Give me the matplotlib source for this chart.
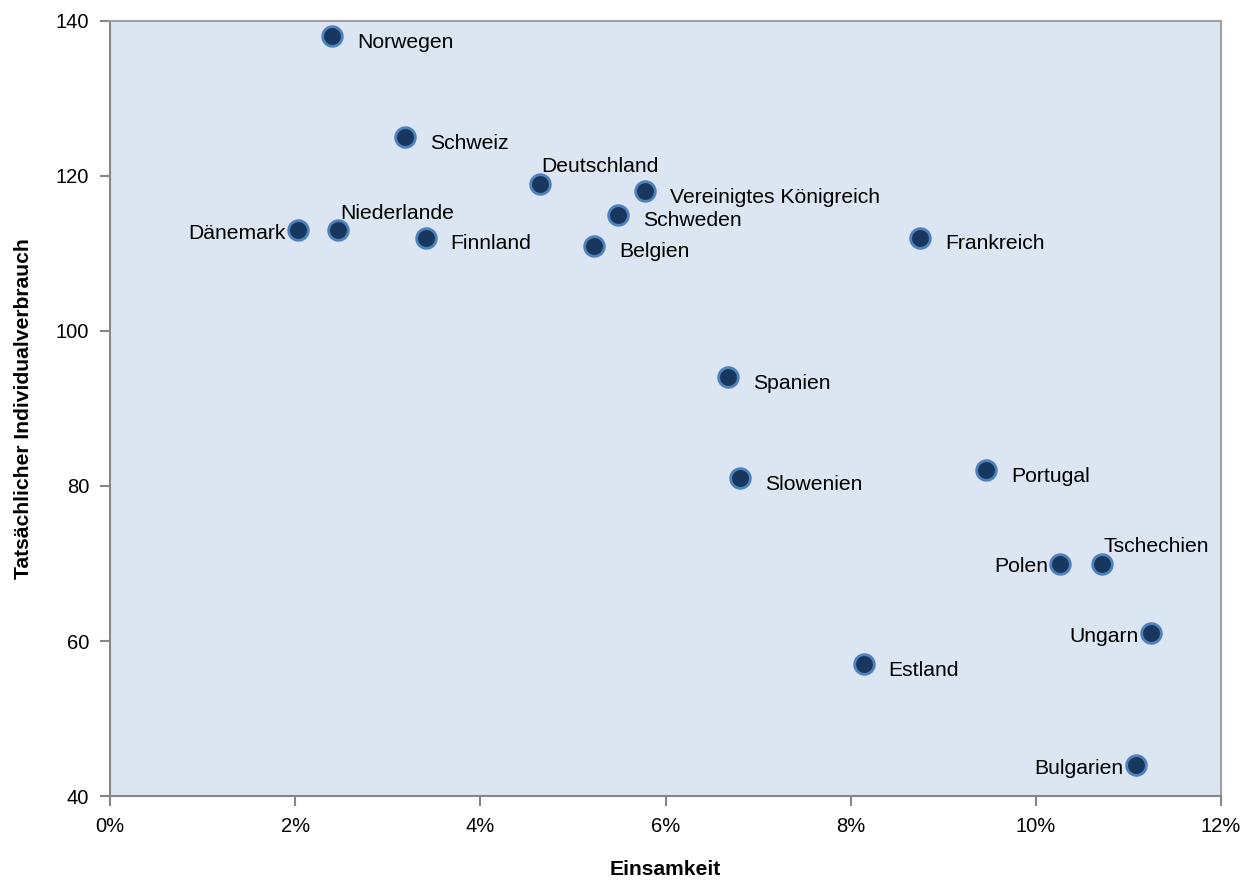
import numpy as np
import matplotlib.pyplot as plt
from matplotlib.ticker import FuncFormatter

plt.rcParams['font.family'] = ['Liberation Sans', 'DejaVu Sans']

laender = ["Norwegen", "Schweiz", "Deutschland", "Vereinigtes Königreich", "Schweden",
           "Belgien", "Niederlande", "Dänemark", "Finnland", "Frankreich", "Spanien",
           "Slowenien", "Portugal", "Polen", "Tschechien", "Ungarn", "Estland", "Bulgarien"]
einsamkeit = [2.40, 3.19, 4.64, 5.78, 5.49, 5.23, 2.46, 2.03, 3.41, 8.75, 6.68,
              6.80, 9.46, 10.26, 10.71, 11.24, 8.14, 11.08]
verbrauch = [138, 125, 119, 118, 115, 111, 113, 113, 112, 112, 94,
             81, 82, 70, 70, 61, 57, 44]
# label placement: r = right, l = left, a = above
lage = ["r", "r", "a", "r", "r", "r", "a", "l", "r", "r", "r",
        "r", "r", "l", "a", "l", "r", "l"]


def main():
    fig = plt.figure(figsize=(12.53, 8.82), dpi=100)
    ax = fig.add_axes([0.0878, 0.0975, 0.8867, 0.8787])
    ax.set_facecolor("#dce6f2")

    ax.scatter(einsamkeit, verbrauch, s=200, color="#17375e",
               edgecolors="#4f81bd", linewidths=2, zorder=3)

    fs = 15.2
    for name, x, y, l in zip(laender, einsamkeit, verbrauch, lage):
        if l == "r":
            ax.annotate(name, (x, y), xytext=(25, -6), textcoords="offset pixels",
                        ha="left", va="center", fontsize=fs)
        elif l == "l":
            ax.annotate(name, (x, y), xytext=(-12, -3), textcoords="offset pixels",
                        ha="right", va="center", fontsize=fs)
        else:
            ax.annotate(name, (x, y), xytext=(2, 17), textcoords="offset pixels",
                        ha="left", va="center", fontsize=fs)

    ax.set_xlim(0, 12)
    ax.set_ylim(40, 140)
    ax.set_xticks(np.arange(0, 13, 2))
    ax.set_yticks(np.arange(40, 141, 20))
    ax.xaxis.set_major_formatter(FuncFormatter(lambda v, p: f"{v:.0f}%"))
    ax.tick_params(labelsize=14.5, color="#868686", length=7, width=1.5, pad=8)

    for sp in ax.spines.values():
        sp.set_color("#a0a0a0")
        sp.set_linewidth(1.5)
    ax.spines["left"].set_color("#868686")
    ax.spines["bottom"].set_color("#868686")

    fig.text(0.531, 1 - 860 / 882, "Einsamkeit", fontsize=15.2, fontweight="bold",
             ha="center", va="top")
    ax.set_ylabel("Tatsächlicher Individualverbrauch", fontsize=15.2,
                  fontweight="bold", labelpad=16)

    fig.savefig("out.png", dpi=100)


if __name__ == "__main__":
    main()
